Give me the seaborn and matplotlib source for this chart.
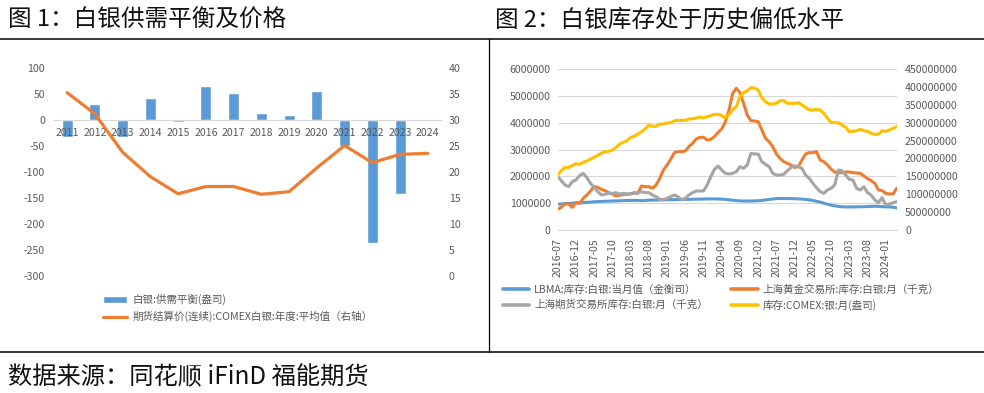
import numpy as np
import pandas as pd
import matplotlib
matplotlib.use('Agg')
import matplotlib.pyplot as plt
from matplotlib.lines import Line2D
from matplotlib.patches import Patch
import seaborn as sns

sns.set_style('white')
plt.rcParams['font.family'] = ['Noto Sans CJK SC', 'DejaVu Sans']
plt.rcParams['axes.unicode_minus'] = False

# ---- 图1 数据 ----
years = ['2011', '2012', '2013', '2014', '2015', '2016', '2017',
         '2018', '2019', '2020', '2021', '2022', '2023', '2024']
balance = [-33, 31.5, -33, 43, -4.5, 66, 53, 14, 10, 56.5, -49.5, -236, -142, np.nan]
price = [35.3, 31.2, 23.8, 19.1, 15.8, 17.2, 17.2, 15.7, 16.2, 20.8, 25.1, 21.8, 23.4, 23.6]

# ---- 图2 数据 (2016-07 ~ 2024-04, 月度) ----
months = [p.strftime('%Y-%m') for p in pd.period_range('2016-07', '2024-04', freq='M')]
lbma = [960, 970, 985, 990, 1000, 1010,
        1015, 1020, 1030, 1040, 1050, 1060, 1065, 1070, 1075, 1080, 1085, 1090,
        1095, 1100, 1100, 1105, 1100, 1095, 1100, 1110, 1120, 1115, 1120, 1125,
        1125, 1130, 1130, 1135, 1140, 1140, 1140, 1145, 1150, 1150, 1155, 1155,
        1160, 1160, 1155, 1150, 1140, 1125, 1110, 1095, 1085, 1080, 1080, 1080,
        1085, 1090, 1105, 1120, 1140, 1155, 1170, 1175, 1175, 1175, 1170, 1165,
        1160, 1150, 1140, 1125, 1100, 1070, 1040, 1000, 960, 925, 900, 880,
        865, 860, 860, 860, 865, 865, 870, 875, 880, 885, 880, 870,
        860, 860, 850, 820]
sge = [770, 845, 969, 969, 845, 1019,
       994, 1180, 1304, 1453, 1615, 1590, 1515, 1466, 1391, 1342, 1267, 1292,
       1329, 1329, 1342, 1391, 1366, 1640, 1615, 1615, 1553, 1677, 1925, 2236,
       2422, 2633, 2882, 2919, 2919, 2944, 3106, 3230, 3391, 3453, 3453, 3354,
       3379, 3478, 3640, 3764, 4037, 4472, 5093, 5279, 5118, 4720, 4285, 4074,
       4062, 4037, 3727, 3416, 3292, 3106, 2832, 2671, 2546, 2484, 2422, 2335,
       2360, 2608, 2832, 2882, 2882, 2919, 2608, 2546, 2422, 2273, 2161, 2136,
       2136, 2161, 2161, 2136, 2124, 2112, 2012, 1913, 1838, 1739, 1490, 1466,
       1366, 1342, 1342, 1553]
shfe = [1987, 1838, 1677, 1615, 1801, 1863,
        2025, 2111, 1950, 1739, 1590, 1429, 1304, 1329, 1366, 1366, 1391, 1342,
        1366, 1342, 1354, 1366, 1391, 1429, 1391, 1391, 1304, 1242, 1143, 1118,
        1180, 1242, 1304, 1242, 1118, 1180, 1304, 1391, 1453, 1453, 1453, 1677,
        1987, 2261, 2385, 2236, 2111, 2087, 2111, 2174, 2360, 2298, 2422, 2857,
        2832, 2832, 2546, 2447, 2360, 2111, 2049, 2049, 2074, 2211, 2335, 2385,
        2360, 2298, 2049, 1925, 1739, 1577, 1429, 1366, 1490, 1553, 1677, 2236,
        2211, 2049, 1888, 1863, 1553, 1490, 1615, 1391, 1304, 1118, 1018, 1205,
        932, 969, 1018, 1056]
comex = [153.7, 165.8, 175.1, 175.1, 179.8, 185.4,
         183.5, 189.1, 192.8, 198.4, 203.1, 208.7, 215.2, 218.9, 219.9, 223.6, 231.0, 240.4,
         245.0, 249.7, 259.0, 261.8, 268.3, 274.8, 282.3, 293.5, 289.7, 289.7, 296.2, 296.2,
         299.0, 299.9, 305.5, 306.5, 306.5, 306.5, 310.2, 311.1, 313.0, 315.8, 313.0, 316.7,
         319.5, 323.3, 323.3, 319.5, 313.0, 323.3, 335.4, 344.7, 372.6, 383.8, 389.4, 397.8,
         396.9, 391.3, 369.8, 358.7, 352.1, 352.1, 354.0, 361.5, 361.5, 354.0, 354.0, 354.0,
         355.9, 349.4, 342.8, 335.4, 335.4, 337.2, 335.4, 326.1, 312.1, 300.9, 299.9, 299.9,
         293.5, 286.9, 274.8, 275.8, 277.6, 281.3, 277.6, 275.8, 270.2, 267.4, 267.4, 277.6,
         275.8, 279.5, 284.1, 288.8]

names = ['LBMA:库存:白银:当月值（金衡司）', '上海黄金交易所:库存:白银:月（千克）',
         '上海期货交易所库存:白银:月（千克）', '库存:COMEX:银:月(盎司)']

BLUE, ORANGE, GRAY, YELLOW = '#5B9BD5', '#ED7D31', '#A5A5A5', '#FFC000'
TXT = '#595959'
FS = 7.6

fig = plt.figure(figsize=(9.84, 3.93), dpi=100)
W, H = 984, 393


def box(x0, y0, x1, y1):
    return [x0 / W, 1 - y1 / H, (x1 - x0) / W, (y1 - y0) / H]


# ---------------- 图1 ----------------
ax = fig.add_axes(box(53.3, 68.3, 441.7, 275.7))
sns.barplot(x=years, y=balance, order=years, color=BLUE, width=0.4,
            saturation=1, errorbar=None, ax=ax)
ax.set_axisbelow(False)
ax.set_xlim(-0.5, 13.5)
ax.set_ylim(-300, 100)
ax.set_yticks(range(-300, 101, 50))
ax.set_xlabel('')
ax.set_ylabel('')
for s in ['top', 'right', 'left']:
    ax.spines[s].set_visible(False)
ax.spines['bottom'].set_position(('data', 0))
ax.spines['bottom'].set_color('#D9D9D9')
ax.tick_params(axis='x', length=0, pad=6, labelsize=FS, labelcolor=TXT)
ax.set_xticks(np.arange(-0.5, 14, 1), minor=True)
ax.tick_params(axis='x', which='minor', length=3, color='#D9D9D9', direction='out')
ax.tick_params(axis='y', length=0, pad=6, labelsize=FS, labelcolor=TXT)

ax2 = ax.twinx()
sns.lineplot(x=np.arange(len(years)), y=price, color=ORANGE, lw=2.3, ax=ax2)
ax2.set_ylim(0, 40)
ax2.set_yticks(range(0, 41, 5))
for s in ax2.spines.values():
    s.set_visible(False)
ax2.tick_params(axis='y', length=0, pad=5, labelsize=FS, labelcolor=TXT)
ax2.set_xlim(-0.5, 13.5)

h1 = [Patch(facecolor=BLUE), Line2D([], [], color=ORANGE, lw=2.3)]
fig.legend(h1, ['白银:供需平衡(盎司)', '期货结算价(连续):COMEX白银:年度:平均值（右轴）'],
           loc='upper left', bbox_to_anchor=(103 / W, 1 - 294 / H), frameon=False,
           fontsize=FS, labelcolor=TXT, handlelength=2.3, handleheight=0.55,
           handletextpad=0.5, labelspacing=0.55, borderpad=0, borderaxespad=0)

# ---------------- 图2 ----------------
bx = fig.add_axes(box(557.7, 69, 896.7, 230))
x = np.arange(len(months))
left_df = pd.DataFrame({'x': np.tile(x, 3),
                        'v': np.array(lbma + sge + shfe) * 1000,
                        's': np.repeat(names[:3], len(months))})
sns.lineplot(data=left_df, x='x', y='v', hue='s', hue_order=names[:3],
             palette=[BLUE, ORANGE, GRAY], lw=2.2, legend=False, ax=bx)
bx.set_xlim(0, len(months) - 1)
bx.set_ylim(0, 6000000)
yt = list(range(0, 6000001, 1000000))
bx.set_yticks(yt)
bx.set_yticklabels([str(v) for v in yt])
bx.grid(axis='y', color='#D9D9D9', lw=0.8)
bx.set_axisbelow(True)
bx.set_xticks(x[::5])
bx.set_xticklabels(months[::5], rotation=90)
bx.set_xlabel('')
bx.set_ylabel('')
for s in ['top', 'right', 'left']:
    bx.spines[s].set_visible(False)
bx.spines['bottom'].set_color('#D9D9D9')
bx.tick_params(axis='x', length=4, color='#D9D9D9', pad=2, labelsize=FS, labelcolor=TXT)
bx.tick_params(axis='y', length=0, pad=5, labelsize=FS, labelcolor=TXT)

bx2 = bx.twinx()
sns.lineplot(x=x, y=np.array(comex) * 1e6, color=YELLOW, lw=2.2, ax=bx2)
bx2.set_ylim(0, 450000000)
yt2 = list(range(0, 450000001, 50000000))
bx2.set_yticks(yt2)
bx2.set_yticklabels([str(v) for v in yt2])
bx2.set_ylabel('')
for s in bx2.spines.values():
    s.set_visible(False)
bx2.tick_params(axis='y', length=0, pad=6, labelsize=FS, labelcolor=TXT)

h2 = [Line2D([], [], color=c, lw=2.6) for c in [BLUE, GRAY, ORANGE, YELLOW]]
fig.legend(h2, [names[0], names[2], names[1], names[3]], ncol=2,
           loc='upper left', bbox_to_anchor=(503 / W, 1 - 284 / H), frameon=False,
           fontsize=FS, labelcolor=TXT, handlelength=2.5, handletextpad=0.45,
           labelspacing=0.5, columnspacing=2.2, borderpad=0, borderaxespad=0)

# ---------------- 标题、框线、来源 ----------------
fig.text(8 / W, 1 - 20 / H, '图 1：白银供需平衡及价格', fontsize=17, va='center', color='#111111')
fig.text(495 / W, 1 - 20 / H, '图 2：白银库存处于历史偏低水平', fontsize=17, va='center', color='#111111')
fig.text(8 / W, 1 - 377 / H, '数据来源：同花顺 iFinD 福能期货', fontsize=17.5, va='center', color='#111111')
fig.add_artist(Line2D([0, 1], [1 - 38.5 / H] * 2, color='black', lw=1.1, transform=fig.transFigure))
fig.add_artist(Line2D([0, 1], [1 - 352 / H] * 2, color='black', lw=1.1, transform=fig.transFigure))
fig.add_artist(Line2D([489 / W] * 2, [1 - 38.5 / H, 1 - 352 / H], color='black', lw=0.9,
                      transform=fig.transFigure))

fig.savefig('out.png', dpi=100)
